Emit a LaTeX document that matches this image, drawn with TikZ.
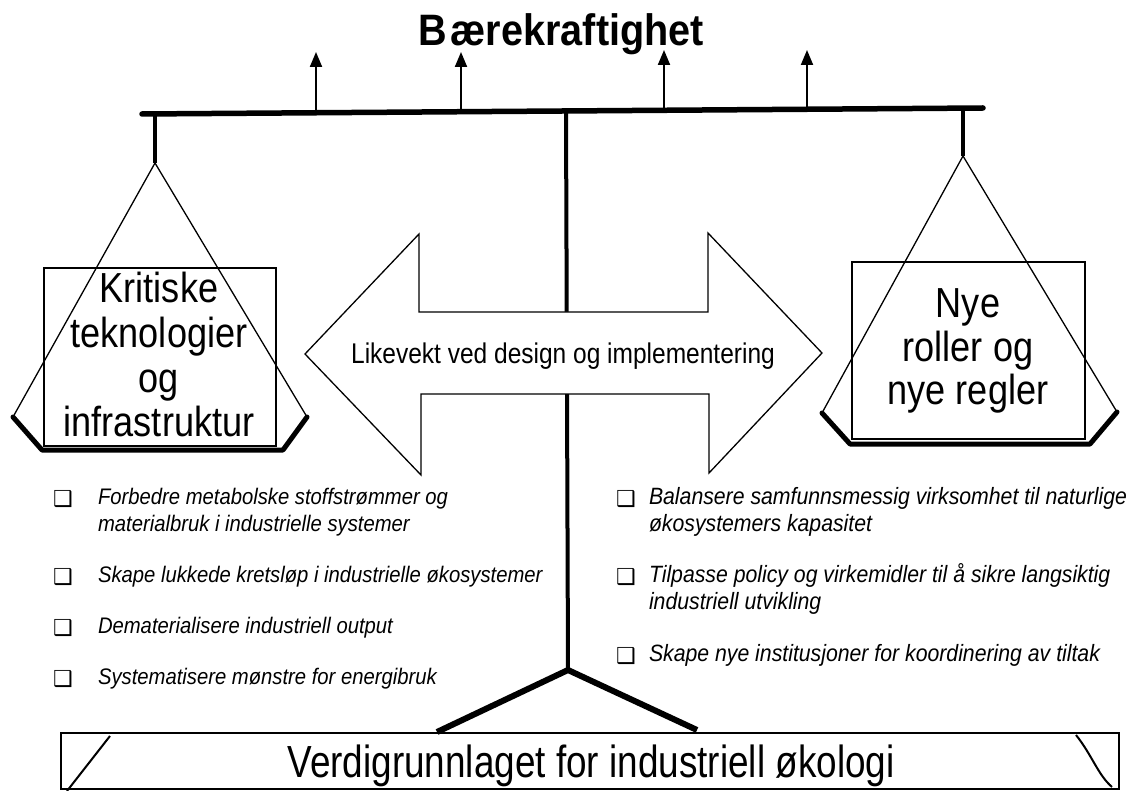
\documentclass[tikz,border=0pt]{standalone}
\usepackage{fontspec}
\setmainfont{Liberation Sans}
\newfontfamily\condA[FakeStretch=0.82]{Liberation Sans}
\newfontfamily\condB[FakeStretch=0.86]{Liberation Sans}
\newfontfamily\condC[FakeStretch=0.9]{Liberation Sans}
\newfontfamily\bulletfont{DejaVu Sans}
\usetikzlibrary{arrows.meta}

\begin{document}
\begin{tikzpicture}[x=1pt,y=-1pt,
  every node/.style={inner sep=0pt, outer sep=0pt},
  thinline/.style={line width=1.3pt},
  beamline/.style={line width=5.5pt, line cap=round},
  postline/.style={line width=4pt},
  panbase/.style={line width=5pt, line join=round, line cap=round},
  footline/.style={line width=6pt, line join=miter},
  riser/.style={line width=2pt, -{Triangle[width=12pt,length=15pt]}},
  titletext/.style={anchor=base, font=\condC\bfseries\fontsize{44}{50}\selectfont},
  boxtext/.style={anchor=base, font=\condB\fontsize{42}{48}\selectfont},
  arrowtext/.style={anchor=base, font=\condB\fontsize{28.5}{34}\selectfont},
  basetext/.style={anchor=base, font=\condA\fontsize{45}{52}\selectfont},
  lefttext/.style={anchor=base west, font=\condC\itshape\fontsize{22.5}{27}\selectfont},
  righttext/.style={anchor=base west, font=\condC\itshape\fontsize{23.6}{28}\selectfont},
  bullet/.style={anchor=base, font=\bulletfont\fontsize{22}{24}\selectfont}
]
\useasboundingbox (0,0) rectangle (1135,791);

% ---- title ----
\node[titletext] (title) at (561,46) {B\kern4pt ærekraftighet};

% ---- balance beam and rising arrows ----
\coordinate (beamL) at (142,114);
\coordinate (beamR) at (983,108);
\draw[beamline] (beamL) -- (beamR);

\coordinate (r1) at (316,112.8); \coordinate (r1t) at (316,52);
\coordinate (r2) at (461,111.7); \coordinate (r2t) at (461,52);
\coordinate (r3) at (664,110.3); \coordinate (r3t) at (664,50);
\coordinate (r4) at (807,109.3); \coordinate (r4t) at (807,50);
\foreach \i in {1,2,3,4} \draw[riser] (r\i) -- (r\i t);

% ---- central post ----
\coordinate (postTop) at (566,111);
\coordinate (postFoot) at (568,670);
\draw[postline] (postTop) -- (postFoot);

% ---- left pan ----
\coordinate (lHang) at (155,114);
\coordinate (lApex) at (155,163);
\coordinate (lFootL) at (13,417);
\coordinate (lFootR) at (307,417);
\coordinate (lBaseL) at (42,450);
\coordinate (lBaseR) at (283,450);
\draw[postline] (lHang) -- (lApex);
\draw[thinline] (lFootL) -- (lApex) -- (lFootR);
\draw[panbase] (lFootL) -- (lBaseL) -- (lBaseR) -- (lFootR);
\draw[thinline] (44,268) rectangle (276,446);
\node[boxtext] (k1) at (159,303) {Kritiske};
\node[boxtext] (k2) at (159,348) {teknologier};
\node[boxtext] (k3) at (159,392) {og};
\node[boxtext] (k4) at (159,436) {infrastruktur};

% ---- right pan ----
\coordinate (rHang) at (963,108);
\coordinate (rApex) at (963,156);
\coordinate (rFootL) at (822,413);
\coordinate (rFootR) at (1117,412);
\coordinate (rBaseL) at (850,444);
\coordinate (rBaseR) at (1090,444);
\draw[postline] (rHang) -- (rApex);
\draw[thinline] (rFootL) -- (rApex) -- (rFootR);
\draw[panbase] (rFootL) -- (rBaseL) -- (rBaseR) -- (rFootR);
\draw[thinline] (852,262) rectangle (1085,439);
\node[boxtext] (n1) at (968,318) {Nye};
\node[boxtext] (n2) at (968,362) {roller og};
\node[boxtext] (n3) at (968,405) {nye regler};

% ---- double-headed balance arrow ----
\draw[thinline, fill=white, line join=miter]
  (305,354) -- (419,234) -- (419,312) -- (708,312) -- (708,233)
  -- (822,353) -- (709,473) -- (709,394) -- (421,394) -- (421,475) -- cycle;
\node[arrowtext] (balance) at (563,364) {Likevekt ved design og implementering};

% ---- left list ----
\node[bullet] (lb1) at (63,506) {❑};
\node[lefttext] (l1a) at (98,504) {Forbedre metabolske stoffstrømmer og};
\node[lefttext] (l1b) at (98,531) {materialbruk i industrielle systemer};
\node[bullet] (lb2) at (63,584) {❑};
\node[lefttext] (l2) at (98,582) {Skape lukkede kretsløp i industrielle økosystemer};
\node[bullet] (lb3) at (63,635) {❑};
\node[lefttext] (l3) at (98,633) {Dematerialisere industriell output};
\node[bullet] (lb4) at (63,686) {❑};
\node[lefttext] (l4) at (98,684) {Systematisere mønstre for energibruk};

% ---- right list ----
\node[bullet] (rb1) at (626,506) {❑};
\node[righttext] (rt1a) at (649,504) {Balansere samfunnsmessig virksomhet til naturlige};
\node[righttext] (rt1b) at (649,531) {økosystemers kapasitet};
\node[bullet] (rb2) at (626,584) {❑};
\node[righttext] (rt2a) at (649,582) {Tilpasse policy og virkemidler til å sikre langsiktig};
\node[righttext] (rt2b) at (649,609) {industriell utvikling};
\node[bullet] (rb3) at (626,663) {❑};
\node[righttext] (rt3) at (649,661) {Skape nye institusjoner for koordinering av tiltak};

% ---- foundation ----
\coordinate (legL) at (437,732);
\coordinate (legR) at (697,730);
\draw[footline] (legL) -- (postFoot) -- (legR);
\draw[line width=2pt] (61,733) rectangle (1119,789);
\draw[line width=2pt] (110,736) -- (67,791);
\draw[line width=2pt] (1076,735) .. controls (1092,755) and (1098,775) .. (1112,787);
\node[basetext] (base) at (591,777) {Verdigrunnlaget for industriell økologi};
\end{tikzpicture}
\end{document}
